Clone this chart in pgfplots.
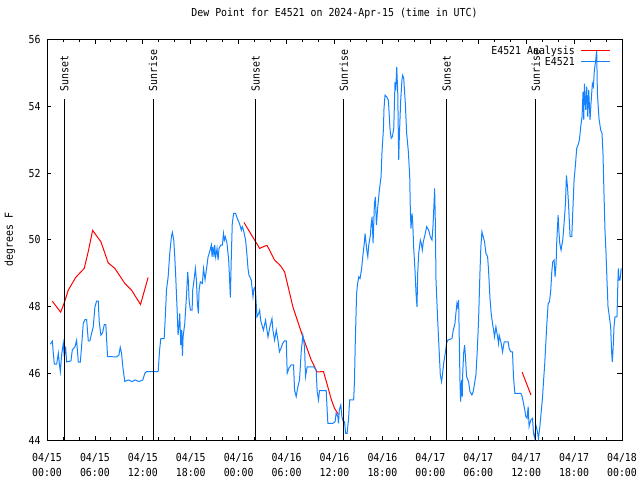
\documentclass[border=0pt]{standalone}
\usepackage{fontspec}
\setmainfont{DejaVu Sans Mono}[FakeStretch=0.9]
\usepackage{pgfplots}
\pgfplotsset{compat=1.18}
\definecolor{dpblue}{RGB}{20,130,255}
\definecolor{dpred}{RGB}{255,0,0}
\newcommand{\gfont}{\fontsize{11}{14.5}\selectfont}
\begin{document}
\begin{tikzpicture}[x=1pt,y=1pt]
\path[use as bounding box] (-47,-40) rectangle (593,440);
\begin{axis}[
  at={(0,0)}, anchor=south west, scale only axis,
  width=575pt, height=400.5pt,
  xmin=0, xmax=72, ymin=44, ymax=56,
  xtick={0,6,...,72},
  minor x tick num=2,
  xticklabels={{04/15\\00:00},{04/15\\06:00},{04/15\\12:00},{04/15\\18:00},{04/16\\00:00},{04/16\\06:00},{04/16\\12:00},{04/16\\18:00},{04/17\\00:00},{04/17\\06:00},{04/17\\12:00},{04/17\\18:00},{04/18\\00:00}},
  xticklabel style={align=center, font=\gfont, yshift=-10pt},
  ytick={44,46,...,56},
  yticklabel style={font=\gfont, xshift=-3pt},
  /pgf/number format/assume math mode=true,
  tick align=inside,
  major tick length=4.5pt, minor tick length=2.7pt,
  tick style={black, line width=0.8pt},
  axis line style={black, line width=0.9pt},
  title={Dew Point for E4521 on 2024-Apr-15 (time in UTC)},
  title style={font=\gfont, at={(0.5,1)}, anchor=center, yshift=20.5pt},
  ylabel={degrees F},
  ylabel style={font=\gfont, at={(0,0.5)}, anchor=center, yshift=37pt},
  legend style={at={(1,1)}, anchor=north east, draw=none, fill=none, font=\gfont,
    xshift=-10pt, yshift=-3pt, row sep=-2.5pt, inner sep=1pt},
  legend cell align=right,
  legend plot pos=right,
  legend image code/.code={\path (0pt,0pt); \draw[#1] (4pt,0pt) -- (33pt,0pt);},
]
\addplot[dpred, line width=1pt] table {
0.66 48.16
1.71 47.83
2.16 48.11
2.66 48.49
3.59 48.87
4.66 49.14
5.16 49.64
5.71 50.28
6.75 49.94
7.66 49.31
8.50 49.14
9.75 48.69
10.59 48.49
11.71 48.06
12.66 48.87
};
\addlegendentry{E4521 Analysis}
\addplot[dpred, line width=1pt, forget plot] table {
24.66 50.52
26.12 49.94
26.62 49.74
27.25 49.81
27.54 49.83
27.87 49.69
28.50 49.39
29.04 49.27
29.33 49.19
29.75 49.04
30.79 47.99
32.04 47.09
33.08 46.40
33.50 46.20
33.79 46.04
34.62 46.05
35.04 45.70
35.62 45.20
36.00 44.95
36.50 44.76
};
\addplot[dpred, line width=1pt, forget plot] table {
59.50 46.03
60.60 45.35
};
\addplot[dpblue, line width=1pt] table {
0.42 46.87
0.67 46.96
0.79 46.60
0.92 46.27
1.21 46.27
1.42 46.60
1.54 46.30
1.67 46.05
1.83 46.54
2.04 46.90
2.17 46.49
2.33 46.80
2.46 46.34
3.00 46.37
3.17 46.70
3.50 46.79
3.71 46.99
3.92 46.33
4.17 46.33
4.33 46.80
4.54 47.49
4.75 47.61
4.96 47.61
5.17 46.97
5.37 46.97
5.58 47.19
5.79 47.39
6.00 47.99
6.21 48.16
6.42 48.16
6.54 47.54
6.75 47.14
6.96 47.21
7.17 47.46
7.37 47.46
7.58 46.50
8.71 46.49
9.00 46.54
9.17 46.78
9.33 46.60
9.54 46.10
9.75 45.75
10.17 45.80
10.67 45.75
11.00 45.80
11.50 45.75
12.00 45.80
12.25 46.00
12.46 46.05
13.92 46.05
14.10 46.70
14.25 47.04
14.67 47.04
14.75 47.39
14.87 47.99
14.96 48.49
15.17 48.89
15.37 49.59
15.58 50.09
15.70 50.22
15.87 49.99
16.00 49.49
16.12 48.89
16.33 47.69
16.41 47.14
16.54 47.49
16.62 47.79
16.75 46.84
16.87 47.29
16.96 46.52
17.04 47.09
17.25 47.49
17.46 48.29
17.62 49.04
17.71 48.74
17.79 48.19
17.96 47.89
18.17 47.89
18.25 48.49
18.41 48.79
18.58 49.14
18.71 48.79
18.83 48.09
18.96 47.79
19.04 48.49
19.20 48.74
19.45 48.69
19.60 49.14
19.79 48.80
20.00 49.17
20.17 49.49
20.37 49.64
20.58 49.84
20.67 49.49
20.79 49.79
20.92 49.49
21.00 49.84
21.12 49.49
21.29 49.74
21.42 49.39
21.54 49.74
21.75 49.84
21.96 49.84
22.10 50.19
22.21 49.99
22.33 50.09
22.54 49.89
22.75 49.39
22.87 48.79
22.96 48.27
23.08 49.49
23.20 50.49
23.37 50.79
23.62 50.79
23.90 50.59
24.10 50.49
24.33 50.29
24.46 50.39
24.60 50.29
24.87 49.99
25.04 49.54
25.17 49.14
25.29 48.94
25.58 48.79
25.79 48.29
25.92 48.54
26.08 48.59
26.29 47.69
26.50 47.79
26.63 47.89
26.75 47.59
27.10 47.29
27.37 47.59
27.67 47.09
27.96 47.44
28.17 47.64
28.29 47.29
28.50 46.99
28.71 47.29
28.92 46.99
29.10 46.64
29.29 46.74
29.50 46.89
29.75 46.97
29.96 46.97
30.08 46.00
30.29 46.15
30.58 46.25
30.87 46.25
31.00 45.50
31.20 45.30
31.42 45.60
31.62 45.80
31.83 46.64
32.04 47.14
32.25 46.79
32.37 45.90
32.58 46.19
32.80 46.19
33.40 46.19
33.70 46.10
33.83 45.45
34.00 45.20
34.12 45.48
34.96 45.48
35.08 44.90
35.17 44.50
35.79 44.50
36.08 44.55
36.20 44.80
36.42 44.70
36.50 44.50
36.60 44.90
36.79 45.05
36.92 44.70
37.10 44.55
37.25 44.55
37.40 44.20
37.58 44.20
37.75 44.60
37.90 45.20
38.40 45.20
38.50 45.75
38.60 46.90
38.77 48.40
38.87 48.64
39.04 48.89
39.20 48.84
39.40 49.14
39.54 49.49
39.75 49.94
39.83 50.19
40.04 49.69
40.17 49.49
40.29 49.84
40.50 50.14
40.58 50.44
40.71 50.69
40.83 49.89
41.00 51.08
41.12 51.28
41.25 50.44
41.42 50.99
41.62 51.49
41.83 51.89
41.96 52.69
42.12 53.29
42.20 53.94
42.33 54.33
42.54 54.28
42.75 54.18
42.96 53.29
43.10 53.04
43.25 53.09
43.42 53.34
43.58 54.73
43.67 54.48
43.79 55.18
43.92 54.40
44.04 52.39
44.12 53.10
44.29 54.18
44.46 54.83
44.54 54.93
44.67 54.83
44.87 54.08
45.04 53.18
45.25 52.63
45.42 51.89
45.50 50.84
45.58 50.34
45.71 50.79
45.80 50.49
45.92 49.74
46.08 49.09
46.21 48.39
46.33 47.99
46.42 48.99
46.54 49.59
46.75 49.99
46.87 49.89
47.00 49.69
47.12 49.94
47.37 50.19
47.54 50.39
47.79 50.29
48.00 50.09
48.21 49.99
48.33 50.39
48.46 51.08
48.54 51.54
48.62 50.59
48.71 48.79
48.92 47.59
49.12 46.60
49.25 45.95
49.41 45.75
49.54 46.00
49.67 46.30
49.87 46.60
50.04 46.90
50.17 46.99
50.71 47.04
50.87 47.29
51.08 47.49
51.20 47.79
51.33 48.09
51.42 47.99
51.54 48.19
51.62 47.09
51.71 45.80
51.79 45.15
51.92 45.80
52.00 45.30
52.04 45.90
52.17 46.60
52.29 46.84
52.37 46.60
52.54 45.90
52.79 45.75
52.96 45.45
53.21 45.35
53.37 45.45
53.54 45.70
53.71 45.95
53.87 46.64
54.04 47.59
54.21 48.99
54.33 49.79
54.46 50.24
54.62 50.09
54.79 49.94
54.96 49.59
55.17 49.49
55.29 49.09
55.46 48.29
55.62 47.79
55.79 47.49
55.92 47.29
56.04 47.09
56.21 47.39
56.42 47.09
56.54 46.89
56.62 47.14
56.88 46.89
57.04 46.64
57.25 46.94
57.75 46.94
57.87 46.74
58.08 46.64
58.29 46.64
58.41 45.90
58.58 45.40
59.33 45.40
59.50 45.30
59.67 45.10
59.83 44.90
59.96 44.70
60.12 44.65
60.25 45.00
60.37 44.40
60.58 44.60
60.79 44.65
60.92 44.20
61.08 44.05
61.21 44.45
61.37 44.30
61.54 44.05
61.71 44.40
61.83 44.70
62.04 45.25
62.17 45.75
62.33 46.30
62.46 46.90
62.58 47.44
62.75 48.09
62.92 48.14
63.08 48.49
63.21 49.04
63.33 49.34
63.50 49.39
63.62 48.89
63.75 49.29
63.83 49.94
64.00 50.74
64.10 50.24
64.21 49.89
64.37 49.69
64.58 49.99
64.75 50.49
64.92 51.08
65.04 51.93
65.17 51.60
65.29 51.14
65.42 50.49
65.50 50.09
65.71 50.09
65.83 50.79
66.00 51.79
66.17 52.24
66.33 52.74
66.50 52.84
66.67 52.99
66.83 53.38
67.00 53.69
67.12 54.43
67.21 53.60
67.29 54.68
67.46 53.89
67.58 54.59
67.71 53.69
67.83 54.49
68.00 53.59
68.12 54.09
68.29 54.68
68.42 54.59
68.54 55.08
68.71 55.38
68.83 55.68
68.92 54.38
69.12 53.63
69.33 53.29
69.50 53.19
69.62 52.58
69.75 51.34
69.87 50.29
70.00 49.59
70.12 48.79
70.25 47.99
70.42 47.69
70.58 47.39
70.71 46.60
70.79 46.34
70.92 46.89
71.00 47.39
71.12 47.69
71.37 47.69
71.46 48.49
71.54 49.14
71.62 48.79
71.75 48.79
71.90 49.14
};
\addlegendentry{E4521}
\addplot[black, line width=0.8pt, forget plot] coordinates {(2.17,44) (2.17,54.22)};
\addplot[black, line width=0.8pt, forget plot] coordinates {(13.29,44) (13.29,54.22)};
\addplot[black, line width=0.8pt, forget plot] coordinates {(26.12,44) (26.12,54.22)};
\addplot[black, line width=0.8pt, forget plot] coordinates {(37.17,44) (37.17,54.22)};
\addplot[black, line width=0.8pt, forget plot] coordinates {(50.04,44) (50.04,54.22)};
\addplot[black, line width=0.8pt, forget plot] coordinates {(61.21,44) (61.21,54.22)};
\node[rotate=90, anchor=west, inner sep=0pt, font=\gfont] at (axis cs:2.17,54.43) {Sunset};
\node[rotate=90, anchor=west, inner sep=0pt, font=\gfont] at (axis cs:13.29,54.43) {Sunrise};
\node[rotate=90, anchor=west, inner sep=0pt, font=\gfont] at (axis cs:26.12,54.43) {Sunset};
\node[rotate=90, anchor=west, inner sep=0pt, font=\gfont] at (axis cs:37.17,54.43) {Sunrise};
\node[rotate=90, anchor=west, inner sep=0pt, font=\gfont] at (axis cs:50.04,54.43) {Sunset};
\node[rotate=90, anchor=west, inner sep=0pt, font=\gfont] at (axis cs:61.21,54.43) {Sunrise};
\end{axis}
\end{tikzpicture}
\end{document}
